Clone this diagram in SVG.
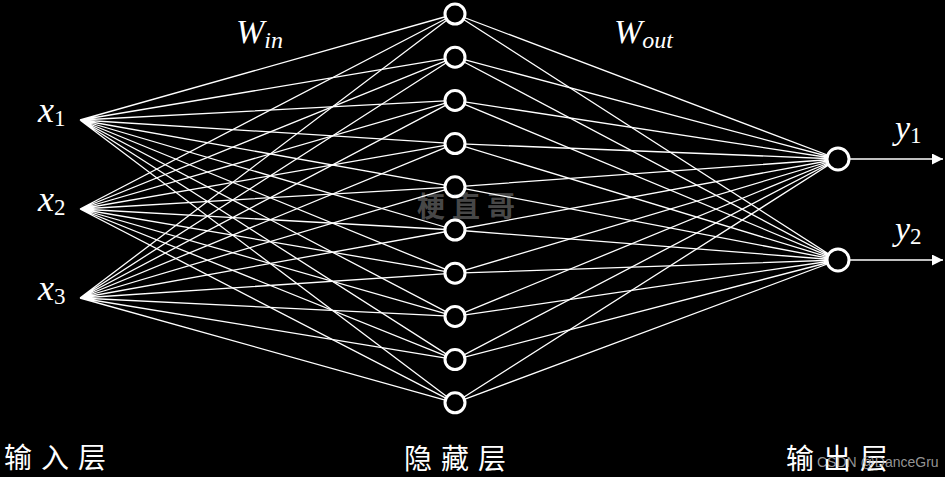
<svg xmlns="http://www.w3.org/2000/svg" width="945" height="477" viewBox="0 0 945 477">
<defs>
<style>
.bg{fill:#000}
.ln{stroke:#fff;stroke-width:1.3;fill:none}
.nd{fill:#000;stroke:#fff;stroke-width:3}
.m{font-family:"Liberation Serif",serif;fill:#fff}
.mi{font-style:italic}
.cn{font-family:"Noto Sans CJK SC",sans-serif;fill:#fff;font-size:28px;letter-spacing:9px}
.wm{font-family:"Noto Sans CJK SC",sans-serif;fill:#fff;fill-opacity:0.3;font-size:28px;font-weight:bold;letter-spacing:7px}
.wm2{font-family:"Liberation Sans",sans-serif;fill:#bbb;fill-opacity:0.8;font-size:14px}
</style>
<marker id="ah" viewBox="0 0 10 10" refX="10" refY="5" markerWidth="11" markerHeight="11" markerUnits="userSpaceOnUse" orient="auto">
<path d="M0,0 L10,5 L0,10 z" fill="#fff"/>
</marker>
</defs>
<rect class="bg" x="0" y="0" width="945" height="477"/>
<g id="connectors">
<g class="ln">
<path d="M80,120L455,14M80,120L455,57.2M80,120L455,100.4M80,120L455,143.6M80,120L455,186.8M80,120L455,230M80,120L455,273.2M80,120L455,316.4M80,120L455,359.6M80,120L455,402.8"/>
<path d="M80,209L455,14M80,209L455,57.2M80,209L455,100.4M80,209L455,143.6M80,209L455,186.8M80,209L455,230M80,209L455,273.2M80,209L455,316.4M80,209L455,359.6M80,209L455,402.8"/>
<path d="M80,298L455,14M80,298L455,57.2M80,298L455,100.4M80,298L455,143.6M80,298L455,186.8M80,298L455,230M80,298L455,273.2M80,298L455,316.4M80,298L455,359.6M80,298L455,402.8"/>
<path d="M838,159L455,14M838,159L455,57.2M838,159L455,100.4M838,159L455,143.6M838,159L455,186.8M838,159L455,230M838,159L455,273.2M838,159L455,316.4M838,159L455,359.6M838,159L455,402.8"/>
<path d="M838,260L455,14M838,260L455,57.2M838,260L455,100.4M838,260L455,143.6M838,260L455,186.8M838,260L455,230M838,260L455,273.2M838,260L455,316.4M838,260L455,359.6M838,260L455,402.8"/>
</g>
<line class="ln" x1="849" y1="159" x2="943" y2="159" stroke-width="2" marker-end="url(#ah)"/>
<line class="ln" x1="849" y1="260" x2="943" y2="260" stroke-width="2" marker-end="url(#ah)"/>
</g>
<g id="x1"><text class="m" x="38" y="122" font-size="36"><tspan class="mi">x</tspan><tspan font-size="23" dy="4">1</tspan></text></g>
<g id="x2"><text class="m" x="38" y="211" font-size="36"><tspan class="mi">x</tspan><tspan font-size="23" dy="4">2</tspan></text></g>
<g id="x3"><text class="m" x="38" y="300" font-size="36"><tspan class="mi">x</tspan><tspan font-size="23" dy="4">3</tspan></text></g>
<g id="h1"><circle class="nd" cx="455" cy="14" r="10"/></g>
<g id="h2"><circle class="nd" cx="455" cy="57.2" r="10"/></g>
<g id="h3"><circle class="nd" cx="455" cy="100.4" r="10"/></g>
<g id="h4"><circle class="nd" cx="455" cy="143.6" r="10"/></g>
<g id="h5"><circle class="nd" cx="455" cy="186.8" r="10"/></g>
<g id="h6"><circle class="nd" cx="455" cy="230" r="10"/></g>
<g id="h7"><circle class="nd" cx="455" cy="273.2" r="10"/></g>
<g id="h8"><circle class="nd" cx="455" cy="316.4" r="10"/></g>
<g id="h9"><circle class="nd" cx="455" cy="359.6" r="10"/></g>
<g id="h10"><circle class="nd" cx="455" cy="402.8" r="10"/></g>
<g id="o1"><circle class="nd" cx="838" cy="159" r="11"/></g>
<g id="o2"><circle class="nd" cx="838" cy="260" r="11"/></g>
<g id="y1"><text class="m" x="895" y="139" font-size="34"><tspan class="mi">y</tspan><tspan font-size="23" dy="4">1</tspan></text></g>
<g id="y2"><text class="m" x="895" y="240" font-size="34"><tspan class="mi">y</tspan><tspan font-size="23" dy="4">2</tspan></text></g>
<g id="win"><text class="m mi" x="236" y="43" font-size="34">W<tspan font-size="24" dy="5">in</tspan></text></g>
<g id="wout"><text class="m mi" x="614" y="43" font-size="34">W<tspan font-size="24" dy="5">out</tspan></text></g>
<g id="labels">
<text class="cn" x="4" y="468">输入层</text>
<text class="cn" x="404" y="469">隐藏层</text>
<text class="cn" x="786" y="469">输出层</text>
</g>
<text class="wm" x="417" y="217">梗直哥</text>
<text class="wm2" x="817" y="467">CSDN @DanceGru</text>
</svg>
